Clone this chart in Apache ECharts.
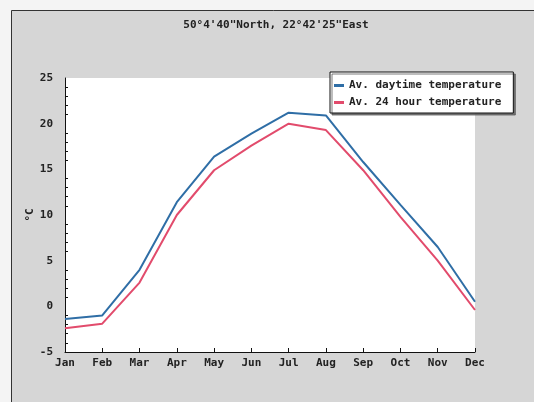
<!DOCTYPE html>
<html><head><meta charset="utf-8">
<script src="https://cdn.jsdelivr.net/npm/echarts@6/dist/echarts.min.js"></script>
<style>html,body{margin:0;padding:0;background:#f4f4f4}#c{width:534px;height:402px}</style>
</head><body><div id="c"></div>
<script>
var months = ['Jan','Feb','Mar','Apr','May','Jun','Jul','Aug','Sep','Oct','Nov','Dec'];
var daytime = [-1.4, -1.0, 4.0, 11.4, 16.4, 18.9, 21.2, 20.9, 15.8, 11.1, 6.5, 0.5];
var allDay = [-2.4, -1.9, 2.6, 10.0, 14.9, 17.6, 20.0, 19.3, 14.9, 9.8, 5.0, -0.4];
var titleText = '50°4\'40"North, 22°42\'25"East';
var seriesNames = ['Av. daytime temperature', 'Av. 24 hour temperature'];
var yName = '°C';

var F = 'DejaVu Sans Mono';
var W = 'bold';
var chart = echarts.init(document.getElementById('c'), null, {renderer:'canvas'});
chart.setOption({
  backgroundColor: '#f4f4f4',
  animation: false,
  graphic: [{
    type: 'rect', left: 11, top: 10, z: -10,
    shape: {width: 540, height: 400},
    style: {fill: '#d6d6d6', stroke: '#333', lineWidth: 1}
  }],
  title: {
    text: titleText, left: 271, top: 15, textAlign: 'center',
    textStyle: {fontFamily: F, fontSize: 11, fontWeight: W, color: '#222'}
  },
  legend: {
    orient: 'vertical', left: 330, top: 72,
    padding: [8, 12, 5, 4], itemGap: 6, itemTextGap: 4,
    itemWidth: 10, itemHeight: 3, icon: 'rect',
    backgroundColor: '#fff', borderColor: '#111', borderWidth: 1,
    shadowColor: 'rgba(90,90,90,0.8)', shadowOffsetX: 2, shadowOffsetY: 2, shadowBlur: 0,
    textStyle: {fontFamily: F, fontSize: 11, fontWeight: W, color: '#222'},
    data: seriesNames
  },
  grid: {
    left: 65, right: 59, top: 78, bottom: 50,
    show: true, backgroundColor: '#fff', borderWidth: 0
  },
  xAxis: {
    type: 'category', data: months, boundaryGap: false,
    axisLine: {onZero: false, lineStyle: {color: '#111', width: 1}},
    axisTick: {inside: true, length: 4, alignWithLabel: true, lineStyle: {color: '#111'}},
    axisLabel: {fontFamily: F, fontSize: 11, fontWeight: W, color: '#222', margin: 6, interval: 0},
    splitLine: {show: false}
  },
  yAxis: {
    type: 'value', min: -5, max: 25, interval: 5,
    name: yName, nameLocation: 'middle', nameGap: 29, nameRotate: 90,
    nameMoveOverlap: false,
    nameTextStyle: {fontFamily: F, fontSize: 11, fontWeight: W, color: '#222'},
    axisLine: {show: true, lineStyle: {color: '#111', width: 1}},
    axisTick: {inside: true, length: 6, lineStyle: {color: '#111'}},
    minorTick: {show: true, splitNumber: 5, length: 3, lineStyle: {color: '#111'}},
    axisLabel: {fontFamily: F, fontSize: 11, fontWeight: W, color: '#222', margin: 12},
    splitLine: {show: false}
  },
  series: [
    {name: seriesNames[0], type: 'line', data: daytime, symbol: 'none',
     lineStyle: {color: '#2f6ea6', width: 2}, itemStyle: {color: '#2f6ea6'}},
    {name: seriesNames[1], type: 'line', data: allDay, symbol: 'none',
     lineStyle: {color: '#e24b6c', width: 2}, itemStyle: {color: '#e24b6c'}}
  ]
});
</script></body></html>
